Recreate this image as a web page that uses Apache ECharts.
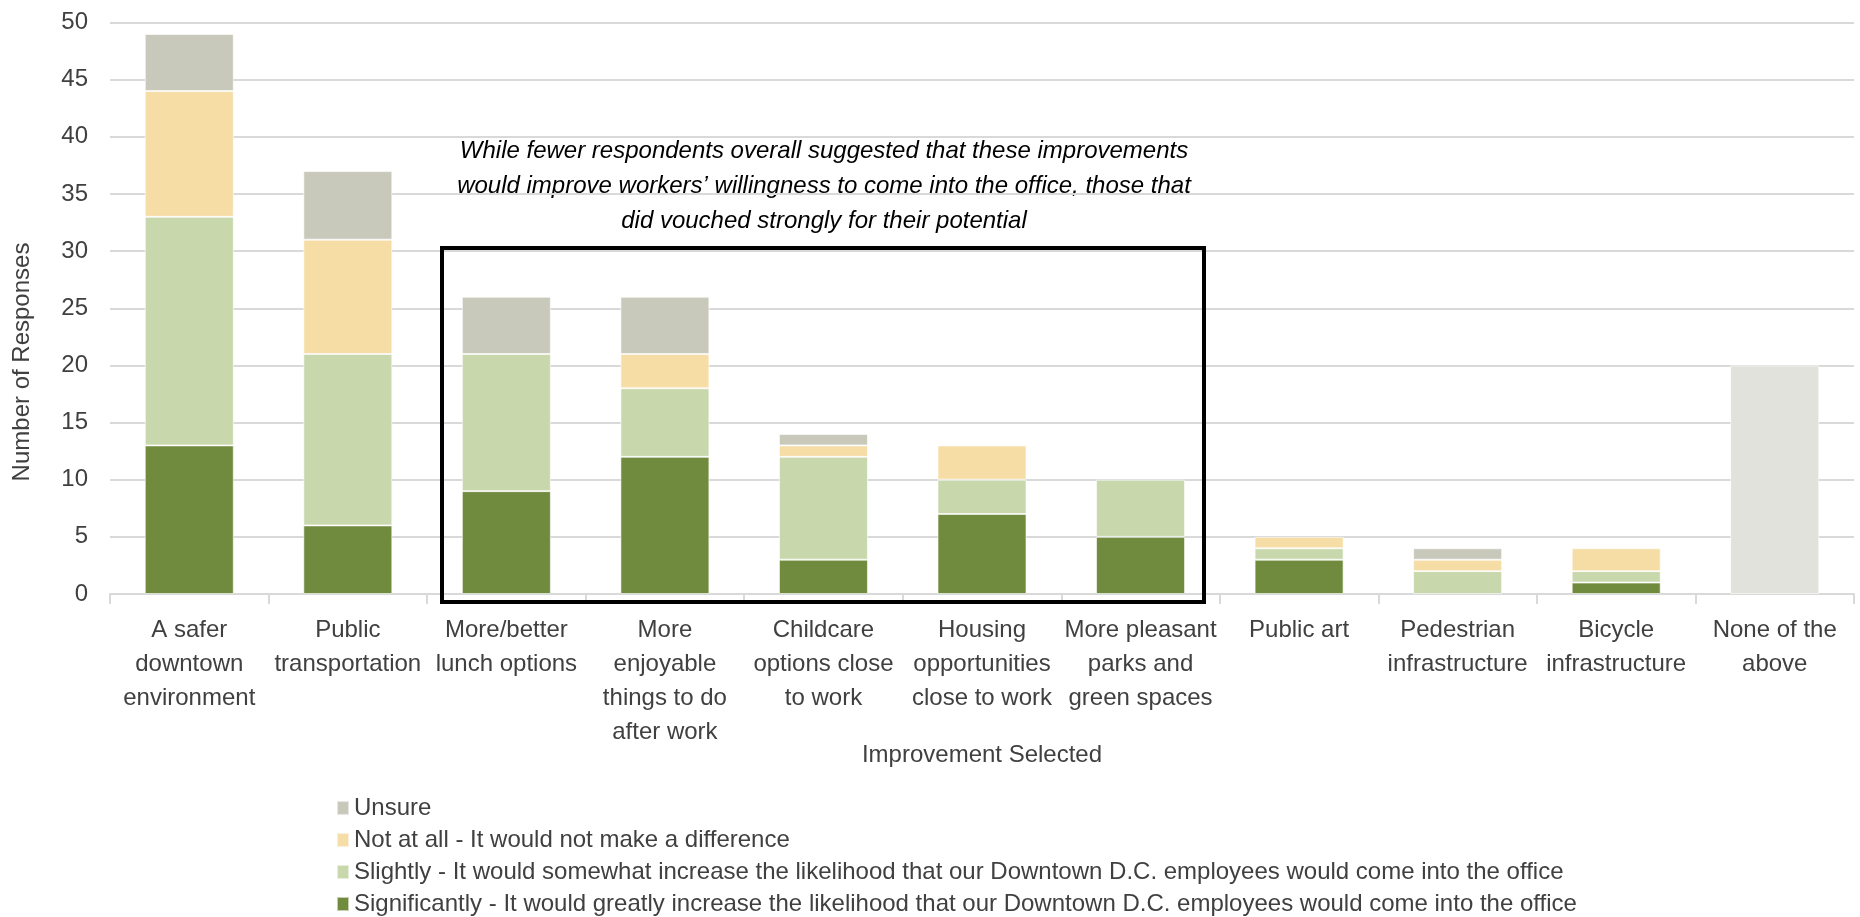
<!DOCTYPE html>
<html>
<head>
<meta charset="utf-8">
<script src="https://cdn.jsdelivr.net/npm/echarts@6/dist/echarts.min.js"></script>
<style>
  html, body { margin: 0; padding: 0; background: #fff; }
  #chart { width: 1860px; height: 917px; }
</style>
</head>
<body>
<div id="chart"></div>
<script>
// Categories (line breaks as shown under the axis)
const categories = [
  'A safer\ndowntown\nenvironment',
  'Public\ntransportation',
  'More/better\nlunch options',
  'More\nenjoyable\nthings to do\nafter work',
  'Childcare\noptions close\nto work',
  'Housing\nopportunities\nclose to work',
  'More pleasant\nparks and\ngreen spaces',
  'Public art',
  'Pedestrian\ninfrastructure',
  'Bicycle\ninfrastructure',
  'None of the\nabove'
];

// Response counts per category
const significantly = [13, 6, 9, 12, 3, 7, 5, 3, 0, 1, 0];
const slightly      = [20, 15, 12, 6, 9, 3, 5, 1, 2, 1, 0];
const notAtAll      = [11, 10, 0, 3, 1, 3, 0, 1, 1, 2, 0];
const unsure        = [5, 6, 5, 5, 1, 0, 0, 0, 1, 0, 0];
const noneOfAbove   = [0, 0, 0, 0, 0, 0, 0, 0, 0, 0, 20];

const yTicks = [0, 5, 10, 15, 20, 25, 30, 35, 40, 45, 50];

const seriesNames = {
  sig: 'Significantly - It would greatly increase the likelihood that our Downtown D.C. employees would come into the office',
  sli: 'Slightly - It would somewhat increase the likelihood that our Downtown D.C. employees would come into the office',
  not: 'Not at all - It would not make a difference',
  uns: 'Unsure'
};

const FONT = '"Liberation Sans", Arial, sans-serif';
const TXT = '#404040';

const chart = echarts.init(document.getElementById('chart'), null, { renderer: 'canvas' });

function barSeries(name, data, color) {
  return {
    name: name,
    type: 'bar',
    stack: 'total',
    barWidth: 89,
    data: data.map(v => (v === 0 ? null : v)),
    itemStyle: { color: color, borderColor: 'rgba(255,255,255,0.6)', borderWidth: 1 },
    emphasis: { disabled: true }
  };
}

chart.setOption({
  animation: false,
  textStyle: { fontFamily: FONT },
  grid: { left: 110, right: 6, top: 22.5, bottom: 323, containLabel: false },
  xAxis: {
    type: 'category',
    data: categories,
    axisLine: { lineStyle: { color: '#D9D9D9', width: 2 } },
    axisTick: { show: true, length: 10, lineStyle: { color: '#D9D9D9', width: 2 } },
    axisLabel: {
      interval: 0,
      fontFamily: FONT,
      fontSize: 24,
      lineHeight: 34,
      color: TXT,
      margin: 19,
      verticalAlign: 'top'
    }
  },
  yAxis: {
    type: 'value',
    min: yTicks[0],
    max: yTicks[yTicks.length - 1],
    interval: 5,
    axisLine: { show: false },
    axisTick: { show: false },
    splitLine: { lineStyle: { color: '#D9D9D9', width: 2 } },
    axisLabel: { fontFamily: FONT, fontSize: 24, color: TXT, margin: 22 }
  },
  legend: {
    orient: 'vertical',
    left: 336,
    top: 796,
    padding: 0,
    height: 200,
    itemWidth: 12,
    itemHeight: 14,
    itemGap: 8,
    icon: 'rect',
    selectedMode: false,
    data: [seriesNames.uns, seriesNames.not, seriesNames.sli, seriesNames.sig],
    textStyle: { fontFamily: FONT, fontSize: 24, color: TXT, lineHeight: 24 }
  },
  series: [
    barSeries(seriesNames.sig, significantly, '#708A3E'),
    barSeries(seriesNames.sli, slightly, '#C8D8AC'),
    barSeries(seriesNames.not, notAtAll, '#F6DDA6'),
    barSeries(seriesNames.uns, unsure, '#C9C9BB'),
    barSeries('None of the above', noneOfAbove, '#E1E2DC')
  ],
  graphic: [
    {
      type: 'text',
      x: 22, y: 362,
      rotation: Math.PI / 2,
      style: {
        text: 'Number of Responses',
        fontFamily: FONT, fontSize: 24, fill: TXT,
        align: 'center', verticalAlign: 'middle'
      }
    },
    {
      type: 'text',
      x: 982, y: 755,
      style: {
        text: 'Improvement Selected',
        fontFamily: FONT, fontSize: 24, fill: TXT,
        align: 'center', verticalAlign: 'middle'
      }
    },
    {
      type: 'text',
      x: 824, y: 186,
      style: {
        text: 'While fewer respondents overall suggested that these improvements\nwould improve workers\u2019 willingness to come into the office, those that\ndid vouched strongly for their potential',
        fontFamily: FONT, fontSize: 24, fontStyle: 'italic', fill: '#000',
        align: 'center', verticalAlign: 'middle', lineHeight: 35
      }
    },
    {
      type: 'rect',
      shape: { x: 442, y: 248, width: 762, height: 354 },
      style: { fill: 'none', stroke: '#000', lineWidth: 4 },
      z: 100
    }
  ]
});
</script>
</body>
</html>
